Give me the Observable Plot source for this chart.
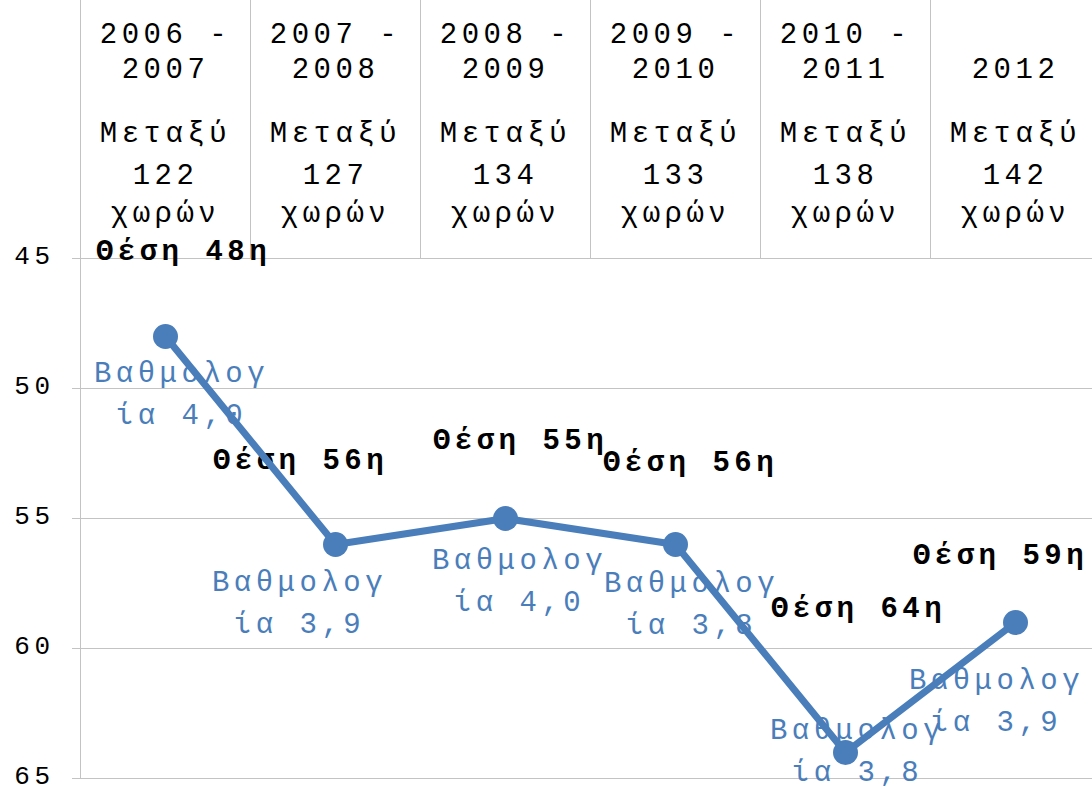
<!DOCTYPE html>
<html>
<head>
<meta charset="utf-8">
<script src="https://cdn.jsdelivr.net/npm/d3@7"></script>
<script src="https://cdn.jsdelivr.net/npm/@observablehq/plot@0.6"></script>
<style>
  html, body { margin: 0; padding: 0; background: #ffffff; }
  #chart { width: 1092px; height: 792px; overflow: hidden; }
</style>
</head>
<body>
<div id="chart"></div>
<script>
// ---- data ----
const periods = ["2006 - 2007", "2007 - 2008", "2008 - 2009", "2009 - 2010", "2010 - 2011", "2012"];
const countries = [122, 127, 134, 133, 138, 142];
const ranks = [48, 56, 55, 56, 64, 59];
const scores = [4.0, 3.9, 4.0, 3.8, 3.8, 3.9];
const yTicks = [45, 50, 55, 60, 65];

// ---- layout (label nudges, px) ----
const rankLabelNudge = [[18, -86], [-35, -85], [15, -79], [15, -83], [13, -145], [-15, -68]];
const scoreLabelNudge = [[16, 53], [-36, 54], [14, 58], [16, 55], [12, -6], [-19, 74]];

const blue = "#4a7ebb";
const grid = "#c3c3c3";
const fmt = v => v.toFixed(1).replace(".", ",");

const data = periods.map((p, i) => ({period: p, rank: ranks[i], score: scores[i], countries: countries[i]}));

const x0 = 80, x1 = 1100;
const step = (x1 - x0) / periods.length;

const headerLines = p => {
  const parts = p.split(" - ");
  return parts.length > 1 ? parts[0] + " -\n" + parts[1] : "\n" + parts[0];
};

const rankMarks = data.map((d, i) => Plot.text([d], {
  x: "period", y: "rank", text: d => `Θέση ${d.rank}η`,
  dx: rankLabelNudge[i][0], dy: rankLabelNudge[i][1],
  fill: "#000", fontSize: 29, fontWeight: "bold", textAnchor: "middle", lineAnchor: "middle"
}));

const scoreMarks = data.map((d, i) => Plot.text([d], {
  x: "period", y: "rank", text: d => `Βαθμολογ\nία ${fmt(d.score)}`,
  dx: scoreLabelNudge[i][0], dy: scoreLabelNudge[i][1],
  fill: blue, fontSize: 29, textAnchor: "middle", lineAnchor: "middle", lineHeight: 1.43
}));

const chart = Plot.plot({
  width: 1092,
  height: 792,
  marginTop: 8,
  marginLeft: 72,
  marginRight: 0,
  marginBottom: 14,
  style: "font-family: 'Liberation Mono', 'DejaVu Sans Mono', monospace; letter-spacing: 4.5px; background: #ffffff; overflow: hidden;",
  x: {type: "point", domain: periods, range: [x0, x1], padding: 0.5, axis: null},
  y: {domain: [45, 65], range: [258, 778], axis: null},
  marks: [
    // horizontal gridlines
    Plot.ruleY(yTicks, {y: d => d, stroke: grid, strokeWidth: 1}),
    // header column dividers
    Plot.ruleX(periods, {x: d => d, y2: () => yTicks[0], dx: -step / 2, stroke: grid, strokeWidth: 1}),
    // left axis line
    Plot.ruleX([periods[0]], {x: d => d, dx: -step / 2, stroke: grid, strokeWidth: 1}),
    // y tick labels
    Plot.text(yTicks, {y: d => d, text: d => String(d), frameAnchor: "left", textAnchor: "end",
      dx: -18, dy: -3, fontSize: 26, fill: "#000", lineAnchor: "middle"}),
    // header texts
    Plot.text(periods, {x: d => d, text: headerLines, frameAnchor: "top", dy: 41,
      fontSize: 29, lineHeight: 1.207, fill: "#000", textAnchor: "middle", lineAnchor: "middle"}),
    Plot.text(periods, {x: d => d, text: () => "Μεταξύ", frameAnchor: "top", dy: 124.5,
      fontSize: 29, fill: "#000", textAnchor: "middle", lineAnchor: "middle"}),
    Plot.text(data, {x: "period", text: d => String(d.countries), frameAnchor: "top", dy: 166.5,
      fontSize: 29, fill: "#000", textAnchor: "middle", lineAnchor: "middle"}),
    Plot.text(periods, {x: d => d, text: () => "χωρών", frameAnchor: "top", dy: 204,
      fontSize: 29, fill: "#000", textAnchor: "middle", lineAnchor: "middle"}),
    // labels
    ...scoreMarks,
    ...rankMarks,
    // series
    Plot.line(data, {x: "period", y: "rank", stroke: blue, strokeWidth: 7, strokeLinejoin: "round"}),
    Plot.dot(data, {x: "period", y: "rank", r: 12.5, fill: blue, stroke: "none"})
  ]
});

document.getElementById("chart").appendChild(chart);
</script>
</body>
</html>
